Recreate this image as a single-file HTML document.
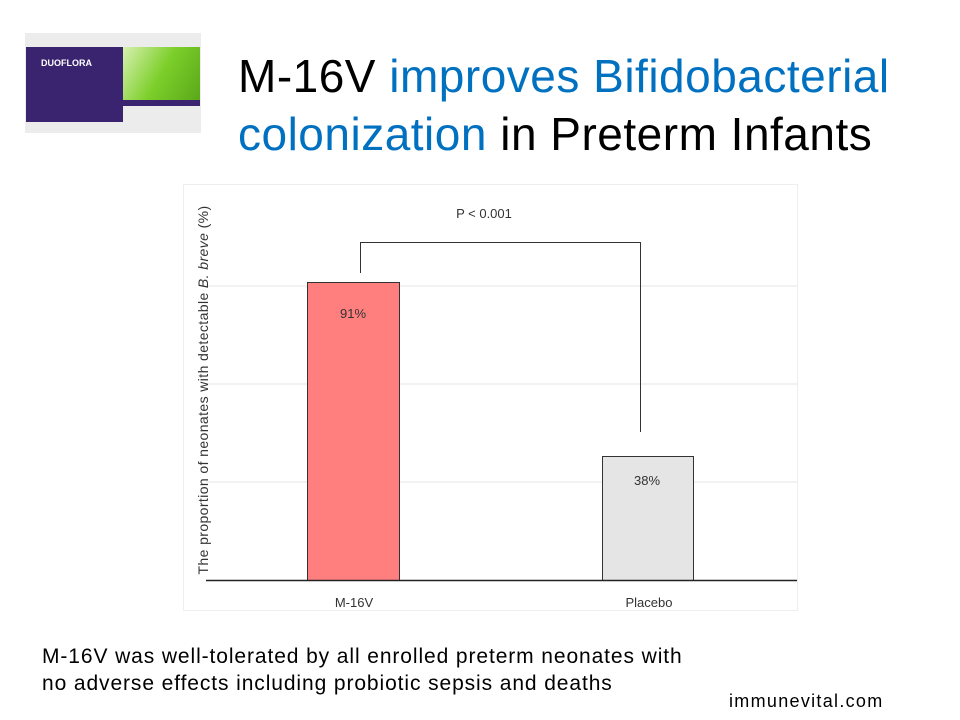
<!DOCTYPE html>
<html><head><style>
body{margin:0;width:960px;height:720px;background:#fff;position:relative;overflow:hidden;font-family:"Liberation Sans",sans-serif}
.t{position:absolute;left:238px;white-space:nowrap;font-size:46px;line-height:52px;color:#000;letter-spacing:0.5px}
.b{color:#0070c0}
</style></head><body>
<div style="position:absolute;left:25px;top:33px;width:176px;height:100px;background:#ececec"></div>
<div style="position:absolute;left:26px;top:47px;width:97px;height:75px;background:#3a2470"></div>
<div style="position:absolute;left:123px;top:47px;width:77px;height:53px;background:linear-gradient(120deg,#d8f0b0,#7ccf2a 50%,#5aa81a)"></div>
<div style="position:absolute;left:123px;top:100px;width:77px;height:6px;background:#3a2470"></div>
<div style="position:absolute;left:41px;top:58px;color:#fff;font-size:9px;font-weight:bold">DUOFLORA</div>
<div class="t" style="top:50px">M-16V <span class="b">improves Bifidobacterial</span></div>
<div class="t" style="top:108px"><span class="b">colonization</span> in Preterm Infants</div>
<svg style="position:absolute;left:0;top:0" width="960" height="720">
<rect x="183.5" y="184.5" width="614" height="426" fill="#fff" stroke="#eee"/>
<g stroke="#e6e6e6" stroke-width="1"><line x1="206" x2="797" y1="286" y2="286"/><line x1="206" x2="797" y1="384" y2="384"/><line x1="206" x2="797" y1="482" y2="482"/></g>
<rect x="307.5" y="282.5" width="92" height="298" fill="#ff7f7f" stroke="#333"/>
<rect x="602.5" y="456.5" width="91" height="124" fill="#e6e5e6" stroke="#333"/>
<line x1="206" x2="797" y1="580.5" y2="580.5" stroke="#222" stroke-width="1.5"/>
<path d="M360.5 273V242.5H640.5V432" fill="none" stroke="#333"/>
<g font-family="Liberation Sans" font-size="13" fill="#333" text-anchor="middle">
<text x="484" y="218">P &lt; 0.001</text>
<text x="353" y="318">91%</text>
<text x="647" y="485">38%</text>
<text x="354" y="607">M-16V</text>
<text x="649" y="607">Placebo</text>
<text transform="translate(208,390) rotate(-90)" font-size="14" letter-spacing="0.4">The proportion of neonates with detectable <tspan font-style="italic">B. breve</tspan> (%)</text>
</g>
</svg>
<div style="position:absolute;left:42px;top:643px;font-size:21px;line-height:27px;color:#000;letter-spacing:0.9px;white-space:nowrap">M-16V was well-tolerated by all enrolled preterm neonates with<br>no adverse effects including probiotic sepsis and deaths</div>
<div style="position:absolute;left:729px;top:691px;font-size:18px;color:#000;letter-spacing:1.3px">immunevital.com</div>
</body></html>
